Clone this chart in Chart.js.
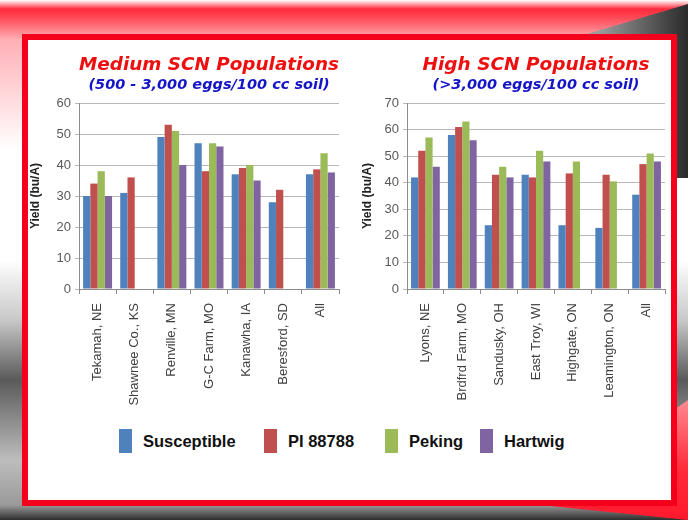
<!DOCTYPE html>
<html>
<head>
<meta charset="utf-8">
<script src="https://cdn.jsdelivr.net/npm/chart.js@4"></script>
<style>
  body { margin: 0; }
  #slide {
    position: relative; width: 688px; height: 520px; overflow: hidden;
    background: linear-gradient(to bottom, #fff 0px, #ff2a3c 9px, #ff4a58 18px, #ffb0b6 40px, #fff 150px, #fff 260px, #c8c8c8 320px, #5a5a5a 380px, #bdbdbd 460px, #9a9a9a 505px, #2e2e2e 520px);
  }
  .deco { position: absolute; left: 0; top: 0; width: 688px; height: 520px; }
  #topRight {
    clip-path: polygon(560px 42px, 688px 4px, 688px 178px, 676px 178px);
    background: linear-gradient(to right, #d8d8d8 0px, #9a9a9a 600px, #2a2a2a 688px);
  }
  #botRight {
    clip-path: polygon(540px 505px, 688px 400px, 688px 520px);
    background: linear-gradient(to bottom, #ff8a90 400px, #ff2a3a 470px, #ff1a2c 520px);
  }
  #frame {
    position: absolute; left: 22px; top: 34px; width: 655px; height: 472px;
    box-sizing: border-box; border: 6px solid #f5001c; background: #fff;
  }
  canvas { position: absolute; }
  #legend {
    position: absolute; left: 0; top: 429px; width: 688px; height: 24px;
    font-family: "Liberation Sans", Arial, sans-serif; font-weight: bold; font-size: 16.5px; color: #111;
  }
  .item { position: absolute; top: 0; height: 24px; line-height: 24px; }
  .swatch { position: absolute; top: 0; width: 13px; height: 24px; }
  .txt { position: absolute; top: 0; white-space: nowrap; }
</style>
</head>
<body>
<div id="slide">
  <div class="deco" id="topRight"></div>
  <div class="deco" id="botRight"></div>
  <div id="frame"></div>
  <canvas id="chartMedium" width="322" height="380" style="left:28px; top:45px;"></canvas>
  <canvas id="chartHigh" width="326" height="380" style="left:350px; top:45px;"></canvas>
  <div id="legend"></div>
</div>
<script>
// series
const seriesNames = ["Susceptible", "PI 88788", "Peking", "Hartwig"];
const seriesColors = ["#4f81bd", "#c0504d", "#9bbb59", "#8064a2"];

// medium SCN populations
const mediumSites = ["Tekamah, NE", "Shawnee Co., KS", "Renville, MN", "G-C Farm, MO", "Kanawha, IA", "Beresford, SD", "All"];
const mediumSusceptible = [30, 31, 49, 47, 37, 28, 37];
const mediumPI88788 = [34, 36, 53, 38, 39, 32, 38.6];
const mediumPeking = [38, null, 51, 47, 40, null, 43.8];
const mediumHartwig = [30, null, 40, 46, 35, null, 37.6];

// high SCN populations
const highSites = ["Lyons, NE", "Brdfrd Farm, MO", "Sandusky, OH", "East Troy, WI", "Highgate, ON", "Leamington, ON", "All"];
const highSusceptible = [42, 58, 24, 43, 24, 23, 35.5];
const highPI88788 = [52, 61, 43, 42, 43.5, 43, 47];
const highPeking = [57, 63, 46, 52, 48, 40.5, 51];
const highHartwig = [46, 56, 42, 48, null, null, 48];

const mediumTicks = [0, 10, 20, 30, 40, 50, 60];
const highTicks = [0, 10, 20, 30, 40, 50, 60, 70];

function makeChart(id, labels, values, ticks, title, subtitle, yWidth, yTitlePad) {
    const datasets = values.map((v, i) => ({
        label: seriesNames[i],
        data: v,
        backgroundColor: seriesColors[i],
        barPercentage: 1,
        categoryPercentage: 0.78,
    }));
    return new Chart(document.getElementById(id), {
        type: "bar",
        data: { labels: labels, datasets: datasets },
        options: {
            responsive: false,
            animation: false,
            layout: { padding: { left: 0, right: 11, top: 0, bottom: 0 } },
            plugins: {
                legend: { display: false },
                tooltip: { enabled: false },
                title: {
                    display: true,
                    text: title,
                    fullSize: false,
                    color: "#ee1010",
                    font: { family: "DejaVu Sans", size: 18.5, weight: "bold", style: "italic" },
                    padding: { top: 8.9, bottom: 0.2 },
                },
                subtitle: {
                    display: true,
                    text: subtitle,
                    fullSize: false,
                    color: "#1515c8",
                    font: { family: "DejaVu Sans", size: 14.5, weight: "bold", style: "italic" },
                    padding: { top: 0, bottom: 9.3 },
                },
            },
            scales: {
                x: {
                    grid: { offset: true, drawOnChartArea: false, drawTicks: true, tickLength: 5, color: "#8c8c8c" },
                    border: { color: "#8c8c8c" },
                    ticks: {
                        minRotation: 90, maxRotation: 90, autoSkip: false, padding: 9,
                        color: "#404040",
                        font: { family: "Liberation Sans", size: 13 },
                    },
                    afterFit: (s) => { s.height = 136; },
                },
                y: {
                    min: ticks[0],
                    max: ticks[ticks.length - 1],
                    afterBuildTicks: (s) => { s.ticks = ticks.map((t) => ({ value: t })); },
                    grid: { color: "#b8b8b8", tickLength: 4, drawTicks: true },
                    border: { color: "#8c8c8c" },
                    ticks: {
                        padding: 4,
                        color: "#595959",
                        font: { family: "Liberation Sans", size: 13 },
                    },
                    title: {
                        display: true,
                        text: "Yield (bu/A)",
                        color: "#222",
                        font: { family: "Liberation Sans", size: 12, weight: "bold" },
                        padding: { top: yTitlePad, bottom: 0 },
                    },
                    afterFit: (s) => { s.width = yWidth; },
                },
            },
        },
    });
}

makeChart("chartMedium", mediumSites,
    [mediumSusceptible, mediumPI88788, mediumPeking, mediumHartwig],
    mediumTicks, "Medium SCN Populations", "(500 - 3,000 eggs/100 cc soil)", 51, 0);

makeChart("chartHigh", highSites,
    [highSusceptible, highPI88788, highPeking, highHartwig],
    highTicks, "High SCN Populations", "(>3,000 eggs/100 cc soil)", 57, 10);

// shared legend
const legendX = [119, 264, 385, 480];
const legend = document.getElementById("legend");
seriesNames.forEach((name, i) => {
    const item = document.createElement("div");
    item.className = "item";
    item.style.left = legendX[i] + "px";
    item.innerHTML = '<span class="swatch" style="left:0;background:' + seriesColors[i] + '"></span>' +
        '<span class="txt" style="left:24px">' + name + '</span>';
    legend.appendChild(item);
});
</script>
</body>
</html>
